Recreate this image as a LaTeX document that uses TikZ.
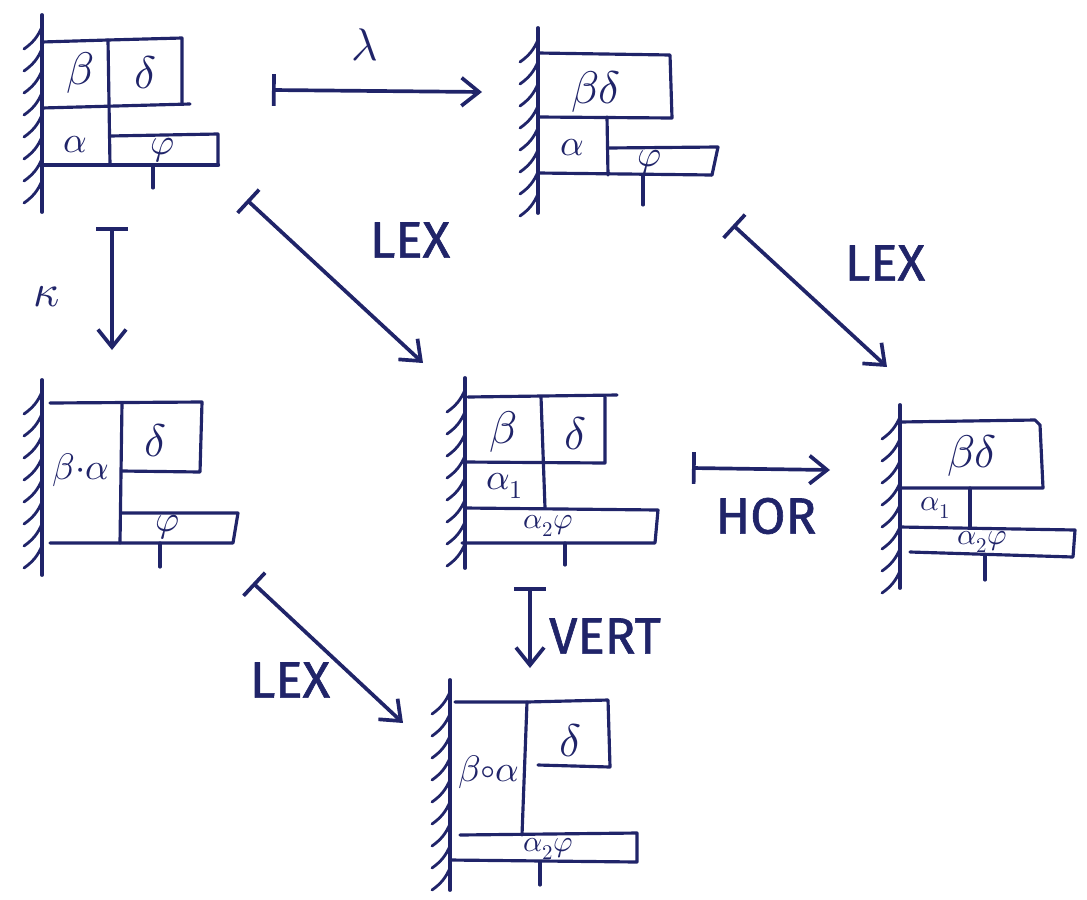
\documentclass[tikz,border=0pt]{standalone}
\usepackage{amsmath}
\usepackage{fontspec}
\usepackage{unicode-math}
\setmathfont{Latin Modern Math}
\usepackage{tikz}
\usetikzlibrary{arrows.meta}
\newfontfamily\handfont[FakeBold=1.2]{Fira Sans}
\definecolor{ink}{RGB}{32,36,105}
% wall with hatching: x, top, bottom
\newcommand{\hatchwall}[3]{%
  \draw[wl] (#1,#2) -- (#1,#3);
  \pgfmathtruncatemacro{\nh}{(#3-#2-25)/22}%
  \foreach \k in {0,...,\nh}
    \draw[hl] (#1-18,#2+34+\k*22) to[bend right=15] (#1,#2+12+\k*22);
}
\begin{document}
\begin{tikzpicture}[x=0.02cm, y=-0.02cm, line cap=round, line join=round,
  bx/.style={draw=ink, line width=1.8pt},
  wl/.style={draw=ink, line width=2.2pt},
  hl/.style={draw=ink, line width=1.6pt},
  ar/.style={draw=ink, line width=2.1pt,
             {Bar[width=18pt]}-{Straight Barb[length=10pt,width=16pt]}},
  gk/.style={text=ink, font=\fontsize{26}{28}\selectfont, inner sep=0pt},
  gs/.style={text=ink, font=\fontsize{21}{23}\selectfont, inner sep=0pt},
  gt/.style={text=ink, font=\fontsize{17}{19}\selectfont, inner sep=0pt},
  lb/.style={text=ink, font=\handfont\fontsize{29}{31}\selectfont, inner sep=0pt}]
\useasboundingbox (0,0) rectangle (1087,899);

% top left
\hatchwall{42}{15}{212}
\draw[bx] (42,42) -- (108,40) -- (182,38) -- (182,103);
\draw[bx] (42,108) -- (190,104);
\draw[bx] (108,40) -- (110,165);
\draw[bx] (110,136) -- (218,134) -- (218,165);
\draw[bx, line width=2.5pt] (42,165) -- (218,165);
\draw[bx] (153,165) -- (153,188);
\node[gk] (tl-b) at (80,73)  {$\beta$};
\node[gk] (tl-d) at (145,72) {$\delta$};
\node[gs] (tl-a) at (75,145) {$\alpha$};
\node[gs] (tl-f) at (163,150) {$\varphi$};

% top middle
\hatchwall{538}{28}{213}
\draw[bx] (538,53) -- (670,55) -- (672,118) -- (538,117);
\draw[bx] (607,117) -- (608,175);
\draw[bx] (608,148) -- (718,147) -- (712,175);
\draw[bx] (538,173) -- (712,175);
\draw[bx] (643,175) -- (643,205);
\node[gk] (tm-bd) at (596,92)  {$\beta\delta$};
\node[gs] (tm-a)  at (572,148) {$\alpha$};
\node[gs] (tm-f)  at (650,162) {$\varphi$};

% middle left
\hatchwall{42}{380}{575}
\draw[bx] (50,403) -- (202,402) -- (200,472) -- (122,471);
\draw[bx] (122,403) -- (120,543);
\draw[bx] (122,513) -- (238,513) -- (233,543) -- (50,543);
\draw[bx] (160,543) -- (160,567);
\node[gs] (ml-ba) at (81,470)  {$\beta{\cdot}\alpha$};
\node[gk] (ml-d)  at (155,440) {$\delta$};
\node[gs] (ml-f)  at (168,527) {$\varphi$};

% middle centre
\hatchwall{465}{378}{568}
\draw[bx] (468,397) -- (617,395);
\draw[bx] (605,397) -- (605,463) -- (465,462);
\draw[bx] (541,397) -- (545,508);
\draw[bx] (465,508) -- (658,510) -- (655,543) -- (462,543);
\draw[bx] (565,543) -- (565,565);
\node[gk] (mc-b)  at (503,432) {$\beta$};
\node[gk] (mc-d)  at (575,433) {$\delta$};
\node[gs] (mc-a1) at (505,486) {$\alpha_1$};
\node[gt] (mc-af) at (548,526) {$\alpha_2\varphi$};

% right
\hatchwall{900}{405}{588}
\draw[bx] (900,422) -- (1035,420) -- (1040,425) -- (1043,488) -- (900,488);
\draw[bx] (970,488) -- (970,527);
\draw[bx] (900,527) -- (1075,530) -- (1073,557) -- (910,552);
\draw[bx] (985,555) -- (985,580);
\node[gk] (r-bd) at (972,456) {$\beta\delta$};
\node[gt] (r-a1) at (936,508) {$\alpha_1$};
\node[gt] (r-af) at (982,542) {$\alpha_2\varphi$};

% bottom
\hatchwall{450}{680}{890}
\draw[bx] (455,702) -- (527,702) -- (608,700) -- (610,767) -- (538,765);
\draw[bx] (527,702) -- (522,835);
\draw[bx] (460,835) -- (637,833) -- (637,862) -- (450,860);
\draw[bx] (540,862) -- (540,885);
\node[gs] (b-ba) at (489,772) {$\beta{\circ}\alpha$};
\node[gk] (b-d)  at (570,740) {$\delta$};
\node[gt] (b-af) at (548,849) {$\alpha_2\varphi$};

% connectors
\coordinate (lam-s) at (272,90);  \coordinate (lam-e) at (482,92);
\coordinate (kap-s) at (112,227); \coordinate (kap-e) at (112,350);
\coordinate (lx1-s) at (247,200); \coordinate (lx1-e) at (423,363);
\coordinate (lx2-s) at (733,225); \coordinate (lx2-e) at (887,367);
\coordinate (hor-s) at (692,468); \coordinate (hor-e) at (830,470);
\coordinate (ver-s) at (530,587); \coordinate (ver-e) at (530,668);
\coordinate (lx3-s) at (253,583); \coordinate (lx3-e) at (403,723);
\draw[ar] (lam-s) -- (lam-e);
\draw[ar] (kap-s) -- (kap-e);
\draw[ar] (lx1-s) -- (lx1-e);
\draw[ar] (lx2-s) -- (lx2-e);
\draw[ar] (hor-s) -- (hor-e);
\draw[ar] (ver-s) -- (ver-e);
\draw[ar] (lx3-s) -- (lx3-e);
\node[gk] (lam) at (365,45)  {$\lambda$};
\node[gk] (kap) at (47,297)  {$\kappa$};
\node[lb] (lex1) at (410,240) {LEX};
\node[lb] (lex2) at (885,263) {LEX};
\node[lb] (hor)  at (766,516) {HOR};
\node[lb] (vert) at (605,636) {VERT};
\node[lb] (lex3) at (290,680) {LEX};
\end{tikzpicture}
\end{document}
